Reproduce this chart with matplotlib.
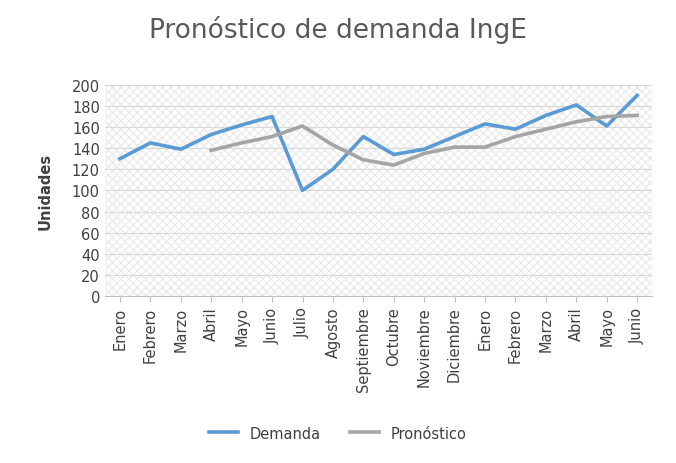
import matplotlib
matplotlib.use("Agg")
import matplotlib.pyplot as plt
import numpy as np

months = ["Enero","Febrero","Marzo","Abril","Mayo","Junio","Julio","Agosto","Septiembre",
          "Octubre","Noviembre","Diciembre","Enero","Febrero","Marzo","Abril","Mayo","Junio"]
demanda = [130,145,139,153,162,170,100,120,151,134,139,151,163,158,171,181,161,190]
pronostico = [None,None,None,138,145,151,161,143,129,124,135,141,141,151,158,165,170,171]

plt.rcParams['hatch.color'] = "#ebebeb"
fig = plt.figure(figsize=(6.76,4.64), dpi=100)
ax = fig.add_axes([0.155, 0.36, 0.81, 0.455])
x = np.arange(len(months))
ax.set_xlim(-0.5, len(months)-0.5)
ax.set_ylim(0, 200)
ax.add_patch(plt.Rectangle((-0.5,0), len(months), 200, facecolor="white",
             edgecolor="#ebebeb", hatch="xxxx", lw=0, zorder=0))
ax.set_yticks(range(0,201,20))
ax.grid(axis="y", color="#d9d9d9", lw=0.8)
ax.set_axisbelow(True)
pm = [(i,v) for i,v in enumerate(pronostico) if v is not None]
ax.plot(x, demanda, color="#5b9bd5", lw=2.6, label="Demanda", zorder=3)
ax.plot([p[0] for p in pm], [p[1] for p in pm], color="#a5a5a5", lw=2.6, label="Pronóstico", zorder=3)
ax.set_xticks(x)
ax.set_xticklabels(months, rotation=90, fontsize=10.5, color="#404040")
ax.tick_params(axis="y", labelsize=10.5, colors="#404040", length=0)
ax.tick_params(axis="x", length=4, color="#bfbfbf")
for s in ["top","right","left"]:
    ax.spines[s].set_visible(False)
ax.spines["bottom"].set_color("#bfbfbf")
ax.set_ylabel("Unidades", fontsize=10.5, fontweight="bold", color="#404040", labelpad=14)
fig.suptitle("Pronóstico de demanda IngE", fontsize=19, color="#595959", y=0.965)
fig.legend(loc="lower center", ncol=2, frameon=False, fontsize=10.5,
           bbox_to_anchor=(0.5, 0.02), labelcolor="#404040")
fig.savefig("out.png", dpi=100)
